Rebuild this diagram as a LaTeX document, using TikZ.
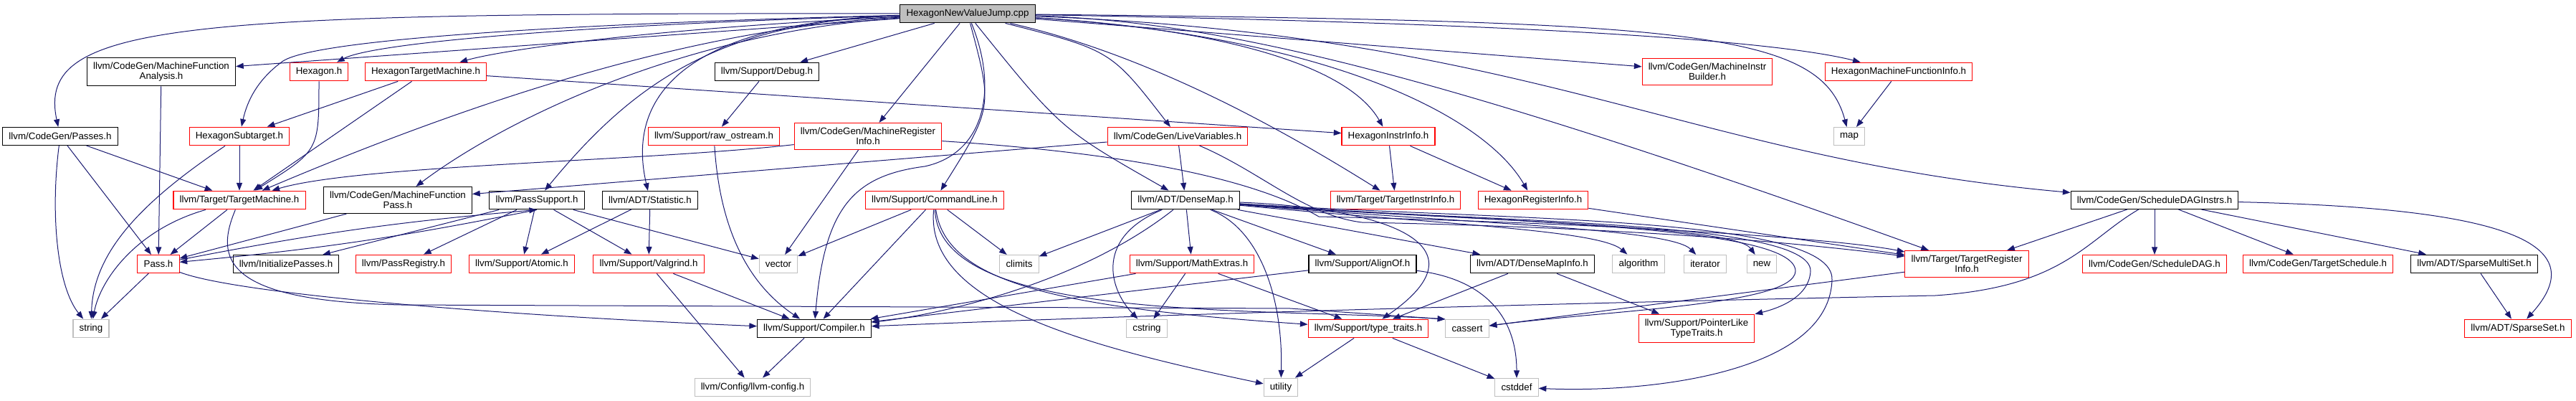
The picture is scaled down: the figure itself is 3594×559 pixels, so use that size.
\documentclass[tikz,border=0pt]{standalone}
\usepackage{fontspec}
\setmainfont{Liberation Sans}
\usepackage{tikz}
\usetikzlibrary{arrows.meta}
\definecolor{edgeblue}{RGB}{25,25,112}
\definecolor{trred}{RGB}{255,0,0}
\definecolor{sysgray}{RGB}{191,191,191}
\tikzset{
  hdr/.style  ={draw=black,fill=white,align=center,font=\fontsize{10}{10.5}\selectfont,
                inner xsep=6.5pt,inner ysep=5pt,minimum height=18.75pt,line width=0.8pt},
  trunc/.style={hdr,draw=trred},
  sys/.style  ={hdr,draw=sysgray},
  src/.style  ={hdr,fill=sysgray},
  dep/.style  ={-{Triangle[length=8pt,width=6pt]},draw=edgeblue,line width=0.75pt},
}

\begin{document}
\begin{tikzpicture}[x=0.75pt,y=-0.75pt]
  \useasboundingbox (0,0) rectangle (3594,559);
  % source file
  \node[src] (r) at (1350,19) {HexagonNewValueJump.cpp};
  % first level
  \node[hdr]   (mfa)   at (225,100)  {llvm/CodeGen/MachineFunction\\Analysis.h};
  \node[trunc] (hexh)  at (445,100)  {Hexagon.h};
  \node[trunc] (htm)   at (594,100)  {HexagonTargetMachine.h};
  \node[hdr]   (debug) at (1070,100) {llvm/Support/Debug.h};
  \node[trunc] (mib)   at (2382,100) {llvm/CodeGen/MachineInstr\\Builder.h};
  \node[trunc] (hmfi)  at (2649,100) {HexagonMachineFunctionInfo.h};
  % second level
  \node[hdr]   (passes) at (84,190)   {llvm/CodeGen/Passes.h};
  \node[trunc] (hsub)   at (334,190)  {HexagonSubtarget.h};
  \node[trunc] (rawos)  at (996,190)  {llvm/Support/raw\_ostream.h};
  \node[trunc] (mri)    at (1211,190) {llvm/CodeGen/MachineRegister\\Info.h};
  \node[trunc] (lv)     at (1643,190) {llvm/CodeGen/LiveVariables.h};
  \node[trunc] (hii)    at (1937,190) {HexagonInstrInfo.h};
  \node[sys]   (map)    at (2580,190) {map};
  % third level
  \node[trunc] (tm)      at (334,279)  {llvm/Target/TargetMachine.h};
  \node[hdr]   (mfp)     at (555,279)  {llvm/CodeGen/MachineFunction\\Pass.h};
  \node[hdr]   (passsup) at (749,279)  {llvm/PassSupport.h};
  \node[hdr]   (stat)    at (907,279)  {llvm/ADT/Statistic.h};
  \node[trunc] (cl)      at (1304,279) {llvm/Support/CommandLine.h};
  \node[hdr]   (dmap)    at (1654,279) {llvm/ADT/DenseMap.h};
  \node[trunc] (tii)     at (1947,279) {llvm/Target/TargetInstrInfo.h};
  \node[trunc] (hri)     at (2139,279) {HexagonRegisterInfo.h};
  \node[hdr]   (sdi)     at (3006,279) {llvm/CodeGen/ScheduleDAGInstrs.h};
  % fourth level
  \node[trunc] (pass)     at (221,368)  {Pass.h};
  \node[hdr]   (initp)    at (399,368)  {llvm/InitializePasses.h};
  \node[trunc] (preg)     at (563,368)  {llvm/PassRegistry.h};
  \node[trunc] (atomic)   at (728,368)  {llvm/Support/Atomic.h};
  \node[trunc] (valg)     at (905,368)  {llvm/Support/Valgrind.h};
  \node[sys]   (vector)   at (1086,368) {vector};
  \node[sys]   (climits)  at (1422,368) {climits};
  \node[trunc] (mathx)    at (1663,368) {llvm/Support/MathExtras.h};
  \node[hdr]   (alignof)  at (1901,368) {llvm/Support/AlignOf.h};
  \node[hdr]   (dmapinfo) at (2138,368) {llvm/ADT/DenseMapInfo.h};
  \node[sys]   (algo)     at (2286,368) {algorithm};
  \node[sys]   (iter)     at (2379,368) {iterator};
  \node[sys]   (new)      at (2458,368) {new};
  \node[trunc] (tri)      at (2744,368) {llvm/Target/TargetRegister\\Info.h};
  \node[trunc] (sdag)     at (3006,368) {llvm/CodeGen/ScheduleDAG.h};
  \node[trunc] (tsched)   at (3234,368) {llvm/CodeGen/TargetSchedule.h};
  \node[hdr]   (smset)    at (3452,368) {llvm/ADT/SparseMultiSet.h};
  % fifth level
  \node[sys]   (string)   at (127,458)  {string};
  \node[hdr]   (compiler) at (1136,458) {llvm/Support/Compiler.h};
  \node[sys]   (cstring)  at (1600,458) {cstring};
  \node[trunc] (typetr)   at (1909,458) {llvm/Support/type\_traits.h};
  \node[sys]   (cassert)  at (2047,458) {cassert};
  \node[trunc] (ptrlike)  at (2367,458) {llvm/Support/PointerLike\\TypeTraits.h};
  \node[trunc] (sset)     at (3513,458) {llvm/ADT/SparseSet.h};
  % sixth level
  \node[sys] (llvmcfg) at (1050,540) {llvm/Config/llvm-config.h};
  \node[sys] (utility) at (1787,540) {utility};
  \node[sys] (cstddef) at (2116,540) {cstddef};

  % straight includes
  \foreach \a/\b in {r/mfa,r/debug,r/mri,r/mib,mfa/pass,htm/hsub,htm/tm,htm/hii,
      passes/pass,passes/tm,hsub/tm,tm/pass,mfp/pass,passsup/initp,passsup/preg,
      passsup/atomic,passsup/valg,passsup/vector,stat/atomic,stat/valg,valg/compiler,
      valg/llvmcfg,pass/string,debug/rawos,mri/vector,lv/mfp,lv/dmap,hii/tii,hii/hri,
      hmfi/map,hri/tri,sdi/tri,sdi/sdag,sdi/tsched,sdi/smset,smset/sset,cl/vector,
      cl/compiler,cl/climits,dmap/climits,dmap/mathx,dmap/alignof,dmap/dmapinfo,
      mathx/compiler,mathx/cstring,mathx/typetr,alignof/compiler,dmapinfo/typetr,
      dmapinfo/ptrlike,typetr/utility,typetr/cstddef,tri/cassert,compiler/llvmcfg}
    \draw[dep] (\a) -- (\b);

  % curved includes of the source file
  \draw[dep] (r) .. controls (250,18) and (50,30) .. (passes);
  \draw[dep] (r) .. controls (900,30) and (450,50) .. (395,85) .. controls (360,110) and (345,140) .. (hsub);
  \draw[dep] (r) .. controls (800,35) and (520,60) .. (hexh);
  \draw[dep] (r) .. controls (900,40) and (700,70) .. (htm);
  \draw[dep] (r) .. controls (1050,35) and (780,90) .. (tm);
  \draw[dep] (r) .. controls (950,45) and (700,170) .. (mfp);
  \draw[dep] (r) .. controls (1000,30) and (880,120) .. (passsup);
  \draw[dep] (r) .. controls (980,30) and (870,120) .. (stat);
  \draw[dep] (r) .. controls (1395,130) and (1370,215) .. (1290,232) .. controls (1190,245) and (1150,290) .. (compiler);
  \draw[dep] (r) .. controls (1385,150) .. (cl);
  \draw[dep] (r) .. controls (1480,180) .. (dmap);
  \draw[dep] (r) .. controls (1550,70) .. (lv);
  \draw[dep] (r) .. controls (1700,40) and (1880,90) .. (hii);
  \draw[dep] (r) .. controls (1620,80) and (1820,200) .. (tii);
  \draw[dep] (r) .. controls (1850,50) and (2070,160) .. (hri);
  \draw[dep] (r) .. controls (1700,30) and (2000,100) .. (tri);
  \draw[dep] (r) .. controls (2000,30) and (2450,50) .. (hmfi);
  \draw[dep] (r) .. controls (2350,30) and (2540,40) .. (map);
  \draw[dep] (r) .. controls (2150,50) and (2350,220) .. (sdi);

  % curved includes further down
  \draw[dep] (hexh) .. controls (445,210) .. (tm);
  \draw[dep] (passes) .. controls (70,300) and (80,400) .. (string);
  \draw[dep] (hsub) .. controls (200,280) and (130,350) .. (string);
  \draw[dep] (tm) .. controls (190,320) and (140,390) .. (string);
  \draw[dep] (tm) .. controls (300,360) and (310,420) .. (560,425) -- (1800,430) -- (cassert.north west);
  \draw[dep] (pass) .. controls (330,410) and (700,440) .. (compiler);
  \draw[dep] (pass) to[bend left=3] (passsup.south);
  \draw[dep] (passsup.south) to[bend left=3] (pass);
  \draw[dep] (rawos) .. controls (1005,330) and (1050,400) .. (compiler);
  \draw[dep] (mri) .. controls (900,225) and (500,230) .. (tm);
  \draw[dep] (mri) .. controls (1600,215) and (1760,255) .. (1840,302) .. controls (2200,310) and (2550,330) .. (tri);
  \draw[dep] (lv) .. controls (1760,240) and (1820,300) .. (1900,310) .. controls (2300,318) and (2520,340) .. (tri);
  \draw[dep] (dmap) .. controls (1530,330) and (1545,400) .. (cstring);
  \draw[dep] (dmap) .. controls (1500,400) and (1300,440) .. (compiler);
  \draw[dep] (dmap) .. controls (1760,320) and (1790,420) .. (utility);
  \draw[dep] (dmap) .. controls (2000,312) and (2230,320) .. (algo);
  \draw[dep] (dmap) .. controls (2050,312) and (2330,318) .. (iter);
  \draw[dep] (dmap) .. controls (2100,310) and (2420,315) .. (new);
  \draw[dep] (dmap) .. controls (1930,290) and (2080,340) .. (typetr);
  \draw[dep] (dmap) .. controls (2050,310) and (2505,310) .. (2505,378) .. controls (2503,425) and (2250,432) .. (cassert);
  \draw[dep] (dmap) .. controls (2050,310) and (2528,305) .. (2526,378) .. controls (2524,415) and (2480,430) .. (ptrlike);
  \draw[dep] (dmap) .. controls (2100,308) and (2560,300) .. (2556,390) .. controls (2552,520) and (2300,548) .. (cstddef);
  \draw[dep] (cl) .. controls (1290,420) and (1500,480) .. (utility);
  \draw[dep] (cl) .. controls (1320,400) and (1500,430) .. (typetr);
  \draw[dep] (cl) .. controls (1310,450) and (1750,428) .. (cassert.north west);
  \draw[dep] (alignof) .. controls (2080,390) and (2116,450) .. (cstddef);
  \draw[dep] (sdi) .. controls (3500,290) and (3620,340) .. (sset);
  \draw[dep] (sdi) .. controls (2910,335) and (2880,400) .. (2700,412) .. controls (2300,420) and (1700,435) .. (compiler);
\end{tikzpicture}
\end{document}
